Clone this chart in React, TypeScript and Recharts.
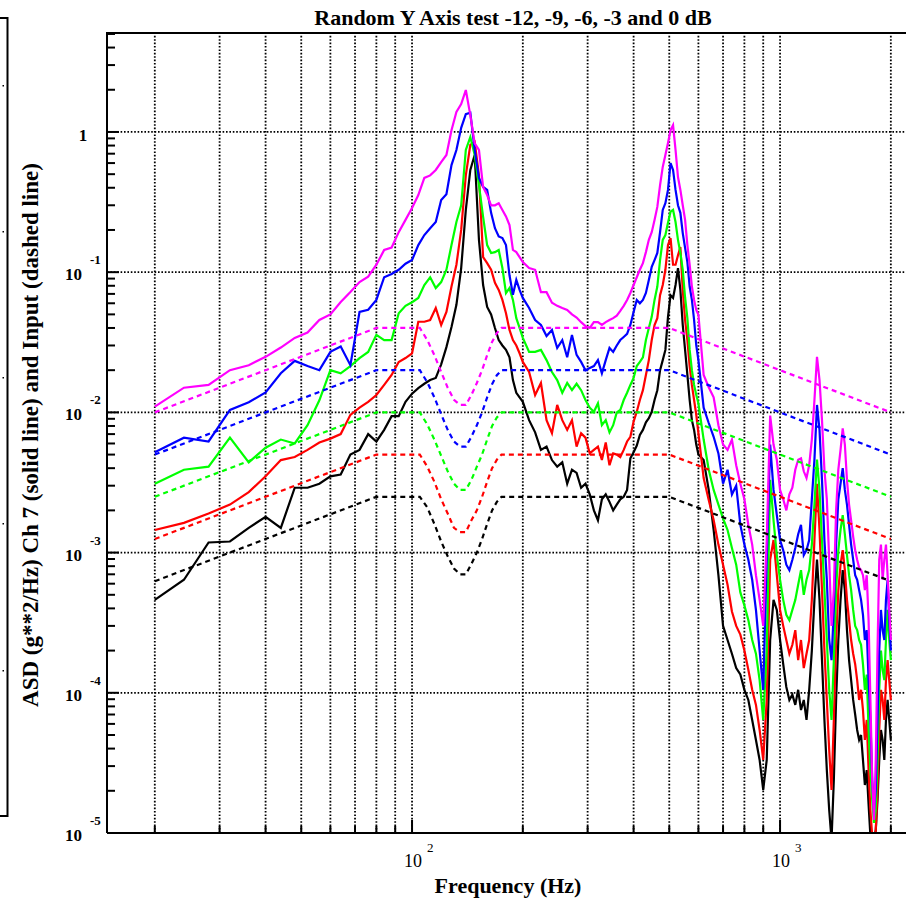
import React from 'react';
import { LineChart, Line, XAxis, YAxis, ReferenceLine } from 'recharts';

// ---------- frequency grid of the measured (solid) curves, Hz ----------
const FREQ_LOW = [20, 24, 28, 32, 36, 40, 44, 48, 52, 56, 60, 64, 68, 72, 76, 80, 84, 88, 92, 96, 100];
const FREQ_MID1 = [104, 108, 112, 116, 120, 124, 128, 132, 136, 140, 144, 148, 152, 156, 160, 164, 168, 172, 176, 180, 184, 188, 192, 196, 200];
const FREQ_MID2 = [208, 216, 224, 232, 240, 248, 256, 264, 272, 280, 288, 296, 304, 312, 320, 328, 336, 344, 352, 360, 368, 376, 384, 392, 400, 408, 416, 424, 432, 440, 448, 456, 464, 472, 480, 488, 496, 504, 512, 520, 528, 536, 544, 552, 560, 568, 576, 584, 592, 600];
const FREQ_HIGH = [620, 640, 660, 680, 700, 720, 740, 760, 780, 800, 820, 840, 860, 880, 900, 920, 940, 960, 980, 1000, 1020, 1040, 1060, 1080, 1100, 1120, 1140, 1160, 1180, 1200, 1220, 1240, 1260, 1280, 1300, 1320, 1340, 1360, 1380, 1400, 1420, 1440, 1460, 1480, 1500, 1520, 1540, 1560, 1580, 1600, 1620, 1640, 1660, 1680, 1700, 1720, 1740, 1760, 1780, 1800, 1820, 1840, 1860, 1880, 1900, 1920, 1940, 1960, 1980, 2000];
const FREQ = [...FREQ_LOW, ...FREQ_MID1, ...FREQ_MID2, ...FREQ_HIGH];

// ---------- measured ASD, Ch 7 (solid lines) ----------
const RESP_0DB = [
  0.011, 0.015, 0.0157, 0.020, 0.0217, 0.0249, 0.029, 0.034, 0.0371, 0.0456, 0.050, 0.0612, 0.0722, 0.085, 0.093, 0.113, 0.144, 0.15, 0.193, 0.236, 0.287,
  0.355, 0.47, 0.49, 0.536, 0.61, 0.685, 1.03, 1.39, 1.58, 1.99, 1.32, 0.83, 0.744, 0.405, 0.355, 0.30, 0.30, 0.31, 0.278, 0.25, 0.217, 0.144, 0.139, 0.128, 0.118,
  0.107, 0.104, 0.072, 0.072, 0.0605, 0.0575, 0.0555, 0.0538, 0.050, 0.0475, 0.044, 0.0412, 0.040, 0.044, 0.044, 0.042, 0.044, 0.0456, 0.047, 0.049, 0.053, 0.0575, 0.0634, 0.071, 0.081, 0.092, 0.104, 0.116, 0.139, 0.170, 0.193, 0.236, 0.292, 0.418, 0.563, 0.685, 0.834, 1.03, 1.12, 0.744, 0.477, 0.386, 0.30, 0.236, 0.156, 0.113, 0.079, 0.0634, 0.0538, 0.0497,
  0.0185, 0.0151, 0.0128, 0.0081, 0.0059, 0.0054, 0.0064, 0.0042, 0.0031, 0.0024, 0.00158, 0.00114, 0.00069, 0.00046, 0.0003, 0.00123, 0.0095, 0.0059, 0.0046, 0.0028, 0.0024, 0.0020, 0.0026, 0.0029, 0.0039, 0.0046, 0.0047, 0.0038, 0.0034, 0.0042, 0.0064, 0.0122, 0.0249, 0.017, 0.0088, 0.0039, 0.0024, 0.00089, 0.0003, 0.00054, 0.0020, 0.0039, 0.0054, 0.0077, 0.0059, 0.0033, 0.0022, 0.0017, 0.0013, 0.00104, 0.00089, 0.00078, 0.00075, 0.00069, 0.00054, 0.00069, 0.00033, 0.0000889, 0.0000239, 0.0000124, 0.0000332, 0.0002, 0.00089, 0.00114, 0.00064, 0.00089, 0.00114, 0.00069, 0.00039, 0.000238,
];
const RESP_M3DB = [
  0.0052, 0.0066, 0.0062, 0.0104, 0.0118, 0.0139, 0.019, 0.0233, 0.0214, 0.020, 0.027, 0.0295, 0.0217, 0.052, 0.054, 0.0634, 0.092, 0.097, 0.104, 0.115, 0.122,
  0.156, 0.184, 0.206, 0.228, 0.327, 0.36, 0.58, 0.744, 1.07, 1.34, 1.37, 0.744, 0.47, 0.405, 0.386, 0.265, 0.206, 0.18, 0.175, 0.156, 0.095, 0.069, 0.088, 0.0747, 0.0655,
  0.0555, 0.0456, 0.042, 0.035, 0.0387, 0.0288, 0.0328, 0.0247, 0.0357, 0.0257, 0.0229, 0.020, 0.0207, 0.0214, 0.0236, 0.019, 0.0236, 0.0288, 0.027, 0.030, 0.0328, 0.0345, 0.0363, 0.042, 0.052, 0.0634, 0.060, 0.0634, 0.071, 0.088, 0.109, 0.122, 0.137, 0.193, 0.278, 0.31, 0.386, 0.6, 0.536, 0.386, 0.30, 0.265, 0.19, 0.149, 0.118, 0.079, 0.0634, 0.0456, 0.030, 0.0236,
  0.0108, 0.0084, 0.0067, 0.0051, 0.0031, 0.0039, 0.0026, 0.0030, 0.00158, 0.00114, 0.00089, 0.00064, 0.00039, 0.0002, 0.000105, 0.00089, 0.0059, 0.0028, 0.00185, 0.00123, 0.00104, 0.00082, 0.00075, 0.00089, 0.00108, 0.00135, 0.00158, 0.00096, 0.00104, 0.00123, 0.0024, 0.0046, 0.0113, 0.0075, 0.0033, 0.00123, 0.00064, 0.000238, 0.000171, 0.00039, 0.00114, 0.0024, 0.0031, 0.0040, 0.0028, 0.0022, 0.00158, 0.00114, 0.00089, 0.00069, 0.00064, 0.00054, 0.00046, 0.00036, 0.000238, 0.00028, 0.000123, 0.000064, 0.0000239, 0.0000146, 0.0000203, 0.000064, 0.0002, 0.00039, 0.00028, 0.000238, 0.00046, 0.00064, 0.00033, 0.0002,
];
const RESP_M6DB = [
  0.0031, 0.0039, 0.0041, 0.0066, 0.0044, 0.0056, 0.0064, 0.0060, 0.0081, 0.0122, 0.020, 0.019, 0.0214, 0.0244, 0.027, 0.0357, 0.0328, 0.0328, 0.051, 0.0575, 0.061,
  0.0655, 0.081, 0.092, 0.077, 0.085, 0.104, 0.156, 0.228, 0.30, 0.744, 0.92, 0.685, 0.418, 0.248, 0.156, 0.137, 0.139, 0.144, 0.107, 0.071, 0.077, 0.0634, 0.047, 0.040, 0.034,
  0.027, 0.027, 0.0279, 0.0236, 0.0194, 0.017, 0.0138, 0.0162, 0.0144, 0.016, 0.0144, 0.01225, 0.0108, 0.0101, 0.0116, 0.0081, 0.0088, 0.0072, 0.0081, 0.0100, 0.0104, 0.01225, 0.0138, 0.0157, 0.0176, 0.0214, 0.0229, 0.0247, 0.0328, 0.040, 0.048, 0.0634, 0.079, 0.122, 0.170, 0.184, 0.225, 0.27, 0.278, 0.228, 0.170, 0.137, 0.104, 0.066, 0.047, 0.0279, 0.020, 0.0157, 0.0133, 0.0116,
  0.0064, 0.0039, 0.0028, 0.0022, 0.00175, 0.00145, 0.00108, 0.00082, 0.00052, 0.00042, 0.00033, 0.000238, 0.00019, 0.000123, 0.000064, 0.0002, 0.0033, 0.0017, 0.00096, 0.00064, 0.00046, 0.00036, 0.00033, 0.00039, 0.00046, 0.00059, 0.00075, 0.0005, 0.00064, 0.00075, 0.00114, 0.0022, 0.0046, 0.0028, 0.00123, 0.00054, 0.000238, 0.000105, 0.000064, 0.000171, 0.00054, 0.00104, 0.00145, 0.00185, 0.00135, 0.00096, 0.00069, 0.00054, 0.00039, 0.0003, 0.00028, 0.000238, 0.00022, 0.00016, 0.000105, 0.000135, 0.0000543, 0.0000281, 0.0000172, 0.0000118, 0.0000146, 0.0000332, 0.000105, 0.0002, 0.000146, 0.000123, 0.000238, 0.00039, 0.000238, 0.000171,
];
const RESP_M9DB = [
  0.00145, 0.00163, 0.0019, 0.0022, 0.0027, 0.0035, 0.00457, 0.0048, 0.0054, 0.0061, 0.0065, 0.0070, 0.0096, 0.0108, 0.0119, 0.0133, 0.0157, 0.0185, 0.0229, 0.0244, 0.0264,
  0.0443, 0.0443, 0.0456, 0.0555, 0.042, 0.052, 0.079, 0.113, 0.2, 0.49, 0.81, 0.85, 0.49, 0.128, 0.116, 0.104, 0.084, 0.0747, 0.0634, 0.051, 0.0387, 0.0328, 0.030, 0.0264, 0.0229,
  0.0194, 0.0133, 0.0162, 0.0088, 0.0071, 0.0113, 0.0088, 0.0075, 0.0088, 0.0057, 0.0071, 0.0066, 0.0051, 0.0054, 0.0057, 0.00457, 0.0061, 0.0042, 0.0051, 0.0050, 0.0048, 0.0054, 0.0062, 0.0067, 0.0086, 0.0101, 0.01225, 0.0144, 0.0185, 0.0236, 0.0328, 0.042, 0.047, 0.0685, 0.081, 0.104, 0.156, 0.175, 0.113, 0.113, 0.132, 0.151, 0.0747, 0.0456, 0.0328, 0.0214, 0.0157, 0.01225, 0.0096, 0.0071,
  0.0034, 0.00237, 0.00171, 0.00114, 0.00082, 0.00059, 0.00038, 0.0003, 0.00026, 0.0002, 0.000146, 0.000105, 0.000082, 0.0000543, 0.0000332, 0.0000889, 0.00089, 0.00123, 0.00069, 0.00039, 0.0003, 0.000238, 0.00019, 0.00022, 0.00028, 0.000171, 0.000238, 0.00015, 0.00019, 0.000238, 0.00046, 0.00123, 0.0031, 0.00145, 0.00054, 0.0002, 0.0000889, 0.0000391, 0.0000203, 0.000064, 0.000238, 0.00054, 0.00082, 0.00104, 0.00075, 0.00046, 0.00033, 0.000238, 0.00019, 0.00016, 0.000123, 0.0000889, 0.000105, 0.0000754, 0.0000461, 0.000064, 0.0000281, 0.0000146, 0.0000095, 0.000008, 0.0000105, 0.0000203, 0.0000543, 0.000105, 0.0000889, 0.000064, 0.000123, 0.000171, 0.000123, 0.0000889,
];
const RESP_M12DB = [
  0.00046, 0.00064, 0.00118, 0.0012, 0.0015, 0.0018, 0.0015, 0.0029, 0.0029, 0.0031, 0.0035, 0.0036, 0.0050, 0.0054, 0.0070, 0.0062, 0.0075, 0.0094, 0.0094, 0.0119, 0.0136,
  0.0149, 0.016, 0.017, 0.0176, 0.022, 0.0292, 0.0407, 0.0585, 0.107, 0.278, 0.536, 0.685, 0.170, 0.081, 0.0565, 0.05, 0.040, 0.0328, 0.030, 0.0279, 0.0247, 0.017, 0.0138, 0.0128, 0.0119,
  0.0088, 0.0072, 0.0054, 0.0057, 0.00457, 0.0041, 0.0044, 0.0031, 0.0039, 0.0037, 0.0029, 0.0031, 0.0026, 0.0020, 0.0017, 0.0024, 0.0026, 0.0023, 0.0020, 0.0022, 0.0024, 0.0025, 0.0028, 0.0047, 0.0052, 0.0058, 0.0069, 0.0075, 0.0085, 0.0091, 0.0101, 0.01225, 0.0144, 0.0200, 0.0236, 0.0279, 0.048, 0.0685, 0.0655, 0.081, 0.107, 0.0747, 0.042, 0.0279, 0.0185, 0.01225, 0.0088, 0.0075, 0.0059, 0.0050,
  0.00457, 0.0028, 0.00145, 0.00069, 0.0003, 0.000238, 0.00019, 0.00015, 0.000135, 0.000105, 0.0000889, 0.000064, 0.0000461, 0.0000332, 0.0000203, 0.0000332, 0.000238, 0.00046, 0.00039, 0.000238, 0.00016, 0.00011, 0.0000889, 0.000097, 0.000082, 0.000105, 0.0000754, 0.0000889, 0.000064, 0.000105, 0.0002, 0.00046, 0.00089, 0.00046, 0.000171, 0.000064, 0.0000281, 0.0000146, 0.0000089, 0.0000239, 0.0000889, 0.000238, 0.00046, 0.00075, 0.00054, 0.00028, 0.000171, 0.000123, 0.0000889, 0.00007, 0.0000543, 0.0000461, 0.00005, 0.0000332, 0.000022, 0.0000281, 0.000016, 0.0000095, 0.000008, 0.0000089, 0.0000105, 0.0000172, 0.0000332, 0.0000543, 0.0000461, 0.0000332, 0.000064, 0.0000889, 0.000064, 0.0000461,
];

// ---------- input (reference) profiles, dashed ----------
const INPUT_FREQ = [20, 40, 80, 105, 110, 115, 120, 125, 130, 135, 140, 145, 150, 155, 160, 165, 170, 175, 500, 1000, 2000];
const INPUT_0DB = [0.01, 0.02, 0.04, 0.04, 0.0328, 0.0256, 0.0194, 0.015, 0.0123, 0.0113, 0.0113, 0.0133, 0.0162, 0.02, 0.0256, 0.0318, 0.0368, 0.04, 0.04, 0.02, 0.01];
const INPUT_M3DB = [0.005, 0.01, 0.02, 0.02, 0.0164, 0.0128, 0.0097, 0.0075, 0.0062, 0.0057, 0.0057, 0.0067, 0.0081, 0.01, 0.0128, 0.0159, 0.0184, 0.02, 0.02, 0.01, 0.005];
const INPUT_M6DB = [0.0025, 0.005, 0.01, 0.01, 0.0082, 0.0064, 0.0049, 0.0038, 0.0031, 0.0028, 0.0028, 0.0033, 0.0041, 0.005, 0.0064, 0.008, 0.0092, 0.01, 0.01, 0.005, 0.0025];
const INPUT_M9DB = [0.00125, 0.0025, 0.005, 0.005, 0.0041, 0.0032, 0.0024, 0.0019, 0.0015, 0.0014, 0.0014, 0.0017, 0.002, 0.0025, 0.0032, 0.004, 0.0046, 0.005, 0.005, 0.0025, 0.00125];
const INPUT_M12DB = [0.000625, 0.00125, 0.0025, 0.0025, 0.0021, 0.0016, 0.0012, 0.00094, 0.00077, 0.0007, 0.0007, 0.00083, 0.001, 0.00125, 0.0016, 0.002, 0.0023, 0.0025, 0.0025, 0.00125, 0.000625];

// ---------- axes ----------
const X_DOMAIN = [14.83, 2199];
const Y_DOMAIN = [1e-5, 5.08];
const X_TICKS = [20, 30, 40, 50, 60, 70, 80, 90, 100, 200, 300, 400, 500, 600, 700, 800, 900, 1000, 2000];
const X_DECADES = [100, 1000];
const Y_TICKS = [
  1e-5, 2e-5, 3e-5, 4e-5, 5e-5, 6e-5, 7e-5, 8e-5, 9e-5,
  1e-4, 2e-4, 3e-4, 4e-4, 5e-4, 6e-4, 7e-4, 8e-4, 9e-4,
  1e-3, 2e-3, 3e-3, 4e-3, 5e-3, 6e-3, 7e-3, 8e-3, 9e-3,
  1e-2, 2e-2, 3e-2, 4e-2, 5e-2, 6e-2, 7e-2, 8e-2, 9e-2,
  0.1, 0.2, 0.3, 0.4, 0.5, 0.6, 0.7, 0.8, 0.9,
  1, 2, 3, 4, 5,
];
const Y_DECADES = [1e-5, 1e-4, 1e-3, 1e-2, 0.1, 1];
const Y_GRID = [1e-4, 1e-3, 1e-2, 0.1, 1];

const TITLE = 'Random Y Axis test -12, -9, -6, -3 and 0 dB';
const X_TITLE = 'Frequency (Hz)';
const Y_TITLE = 'ASD (g**2/Hz) Ch 7 (solid line) and Input (dashed line)';

const SERIES = [
  { name: '-12 dB', resp: RESP_M12DB, input: INPUT_M12DB, color: '#000000' },
  { name: '-9 dB', resp: RESP_M9DB, input: INPUT_M9DB, color: '#ff0000' },
  { name: '-6 dB', resp: RESP_M6DB, input: INPUT_M6DB, color: '#00ff00' },
  { name: '-3 dB', resp: RESP_M3DB, input: INPUT_M3DB, color: '#0000ff' },
  { name: '0 dB', resp: RESP_0DB, input: INPUT_0DB, color: '#ff00ff' },
];

const zip = (fs: number[], vs: number[]) => fs.map((f, i) => ({ f, v: vs[i] }));

const FONT = '"Liberation Serif", "Times New Roman", Times, serif';
const W = 906;
const H = 899;
const PLOT_LEFT = 107;
const PLOT_TOP = 33;
const PLOT_BOTTOM = 833;

const isDecade = (v: number, list: number[]) => list.some((d) => Math.abs(v / d - 1) < 1e-6);

const YTick = (props: any) => {
  const { x, y, payload } = props;
  const v = payload.value;
  const major = isDecade(v, Y_DECADES);
  const exp = Math.round(Math.log10(v));
  return (
    <g>
      {v > 1e-5 * 1.01 && (
        <line x1={x} x2={x + (major ? 12 : 8)} y1={y} y2={y} stroke="#000" strokeWidth={2} />
      )}
      {major && exp === 0 && (
        <text x={x - 24} y={y + 9} textAnchor="middle" fontSize={17} fontWeight="bold" fontFamily={FONT} fill="#000">1</text>
      )}
      {major && exp !== 0 && (
        <g>
          <text x={x - 25} y={y + 8} textAnchor="end" fontSize={17} fontWeight="bold" fontFamily={FONT} fill="#000">10</text>
          <text x={x - 17} y={y - 8} textAnchor="start" fontSize={13} fontWeight="bold" fontFamily={FONT} fill="#000">{String(exp)}</text>
        </g>
      )}
    </g>
  );
};

const XTick = (props: any) => {
  const { x, y, payload } = props;
  const v = payload.value;
  const major = isDecade(v, X_DECADES);
  const exp = Math.round(Math.log10(v));
  return (
    <g>
      <line x1={x} x2={x} y1={y} y2={y - (major ? 13 : 7)} stroke="#000" strokeWidth={2} />
      {major && (
        <g>
          <text x={x + 1} y={y + 34} textAnchor="middle" fontSize={18} fontFamily={FONT} fill="#000">10</text>
          <text x={x + 15} y={y + 19} textAnchor="start" fontSize={13} fontFamily={FONT} fill="#000">{String(exp)}</text>
        </g>
      )}
    </g>
  );
};

export default function App() {
  return (
    <div style={{ position: 'absolute', left: 0, top: 0, width: W, height: H, background: '#fff', overflow: 'hidden' }}>
      <LineChart
        width={W}
        height={H}
        margin={{ top: PLOT_TOP, right: 0, left: PLOT_LEFT - 60, bottom: H - PLOT_BOTTOM - 30 }}
      >
        <XAxis
          dataKey="f"
          type="number"
          scale="log"
          domain={X_DOMAIN}
          allowDataOverflow
          ticks={X_TICKS}
          interval={0}
          height={30}
          tickSize={0}
          tickMargin={0}
          tickLine={false}
          axisLine={{ stroke: '#000', strokeWidth: 2 }}
          tick={<XTick />}
        />
        <YAxis
          dataKey="v"
          type="number"
          scale="log"
          domain={Y_DOMAIN}
          allowDataOverflow
          ticks={Y_TICKS}
          interval={0}
          width={60}
          tickSize={0}
          tickMargin={0}
          tickLine={false}
          axisLine={{ stroke: '#000', strokeWidth: 2 }}
          tick={<YTick />}
        />
        {X_TICKS.map((t) => (
          <ReferenceLine key={'gx' + t} x={t} stroke="#000" strokeWidth={1.8} strokeDasharray="1.6 1.8" />
        ))}
        {Y_GRID.map((t) => (
          <ReferenceLine key={'gy' + t} y={t} stroke="#000" strokeWidth={1.8} strokeDasharray="1.6 1.8" />
        ))}
        {SERIES.map((s) => (
          <Line
            key={'r' + s.name}
            data={zip(FREQ, s.resp)}
            dataKey="v"
            type="linear"
            stroke={s.color}
            strokeWidth={2.2}
            dot={false}
            activeDot={false}
            isAnimationActive={false}
          />
        ))}
        {SERIES.map((s) => (
          <Line
            key={'i' + s.name}
            data={zip(INPUT_FREQ, s.input)}
            dataKey="v"
            type="linear"
            stroke={s.color}
            strokeWidth={2.2}
            strokeDasharray="5 4"
            dot={false}
            activeDot={false}
            isAnimationActive={false}
          />
        ))}
      </LineChart>
      <svg
        width={W}
        height={H}
        style={{ position: 'absolute', left: 0, top: 0, pointerEvents: 'none' }}
      >
        <line x1={PLOT_LEFT - 1} x2={W} y1={PLOT_TOP} y2={PLOT_TOP} stroke="#000" strokeWidth={2} />
        <path d="M0 18 H7.5 V816 H0" fill="none" stroke="#000" strokeWidth={2} />
        {[85, 231, 377, 523, 670].map((yy) => (
          <rect key={yy} x={2.5} y={yy} width={1.5} height={1.5} fill="#000" />
        ))}
        <text x={513} y={25} textAnchor="middle" fontSize={22} fontWeight="bold" fontFamily={FONT} fill="#000">{TITLE}</text>
        <text x={508} y={893} textAnchor="middle" fontSize={22} fontWeight="bold" fontFamily={FONT} fill="#000">{X_TITLE}</text>
        <text x={38} y={435} transform="rotate(-90 38 435)" textAnchor="middle" fontSize={23} fontWeight="bold" fontFamily={FONT} fill="#000">{Y_TITLE}</text>
      </svg>
    </div>
  );
}
